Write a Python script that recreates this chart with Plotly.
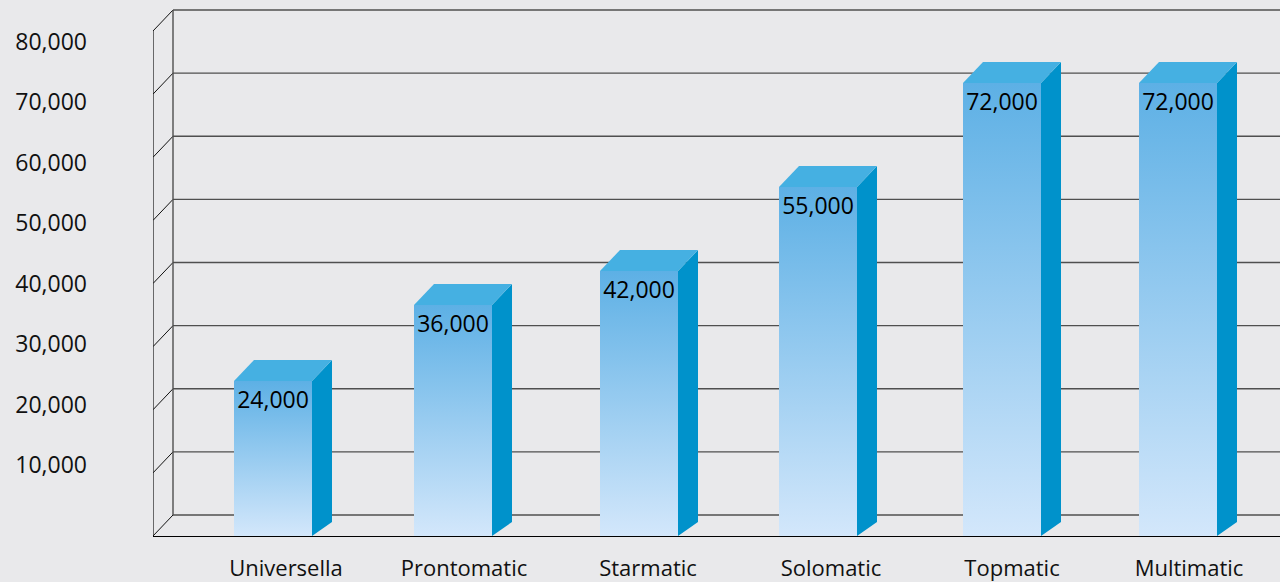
import plotly.graph_objects as go

# Data
categories = ["Universella", "Prontomatic", "Starmatic", "Solomatic", "Topmatic", "Multimatic"]
value_labels = [24000, 36000, 42000, 55000, 72000, 72000]
drawn_heights = [24550, 36600, 41980, 55290, 71760, 71760]
axis_ticks = [10000, 20000, 30000, 40000, 50000, 60000, 70000, 80000]
grid_levels = [0, 10000, 20000, 30000, 40000, 50000, 60000, 70000, 80000]

# Layout / placement (x axis is in page-width units)
bar_lefts = [234, 414, 600, 779, 963, 1139]
cat_label_x = [286, 464, 648, 831, 1012, 1189]
BAR_W = 78
PX_PER_UNIT = 0.0063125
DX = 20
DY_TOP = 21 / PX_PER_UNIT
DY_BOTTOM = 14 / PX_PER_UNIT
FLOOR = 536
LABEL_DROP = 21 / PX_PER_UNIT

BG = "#E9E9EB"
GRID = "#4f4f4f"
FONT = "Open Sans"

fig = go.Figure()


def line(xs, ys, color, width):
    fig.add_trace(go.Scatter(x=xs, y=ys, mode="lines", line=dict(color=color, width=width),
                             hoverinfo="skip", showlegend=False))


# back wall grid
for g in grid_levels:
    line([153 + DX, 1280], [g + DY_TOP, g + DY_TOP], GRID, 1.4)
    line([153, 153 + DX], [g, g + DY_TOP], "#111111", 1)
line([153, 153], [0, grid_levels[-1]], "#111111", 1.2)
line([153 + DX, 153 + DX], [DY_TOP, grid_levels[-1] + DY_TOP], GRID, 1.4)

# bars
for left, h in zip(bar_lefts, drawn_heights):
    right = left + BAR_W
    fig.add_trace(go.Scatter(
        x=[right, right + DX, right + DX, right, right],
        y=[h, h + DY_TOP, DY_BOTTOM, 0, h],
        mode="lines", fill="toself", fillcolor="#0092CB", line=dict(width=0),
        hoverinfo="skip", showlegend=False))
    fig.add_trace(go.Scatter(
        x=[left, right, right + DX, left + DX, left],
        y=[h, h, h + DY_TOP, h + DY_TOP, h],
        mode="lines", fill="toself", fillcolor="#45B0E2", line=dict(width=0),
        hoverinfo="skip", showlegend=False))
    fig.add_trace(go.Scatter(
        x=[left, right, right, left, left],
        y=[0, 0, h, h, 0],
        mode="lines", fill="toself", line=dict(width=0),
        fillgradient=dict(type="vertical",
                          colorscale=[[0, "#D3E7FB"], [1, "#5DB0E5"]]),
        hoverinfo="skip", showlegend=False))

# value labels
fig.add_trace(go.Scatter(
    x=[l + BAR_W / 2 for l in bar_lefts],
    y=[h - LABEL_DROP for h in drawn_heights],
    text=[f"{v:,}" for v in value_labels],
    mode="text", textposition="middle center",
    textfont=dict(family=FONT, size=23, color="#000000"),
    hoverinfo="skip", showlegend=False))

# invisible trace that activates the tick-label axis
fig.add_trace(go.Scatter(x=[153], y=[axis_ticks[0]], yaxis="y2", mode="markers",
                         marker=dict(opacity=0), hoverinfo="skip", showlegend=False))

lab_step = (465 - 42) / 7
fig.update_layout(
    width=1280, height=582,
    autosize=False,
    margin=dict(l=153, r=0, t=0, b=582 - FLOOR, pad=0, autoexpand=False),
    paper_bgcolor=BG, plot_bgcolor=BG,
    font=dict(family=FONT, size=22.5, color="#111111"),
    showlegend=False,
    xaxis=dict(range=[153, 1280], tickvals=cat_label_x, ticktext=categories,
               showgrid=False, zeroline=False, showline=True, linecolor="#000000", linewidth=1.2,
               ticks="", ticklabelstandoff=12, tickangle=0, fixedrange=True, automargin=False,
               tickfont=dict(family=FONT, size=22, color="#111111")),
    yaxis=dict(range=[0, FLOOR / PX_PER_UNIT], visible=False, fixedrange=True, automargin=False),
    yaxis2=dict(range=[10000 - (FLOOR - 465) / lab_step * 10000,
                       10000 + 465 / lab_step * 10000],
                overlaying="y", side="left", tickvals=axis_ticks, tickformat=",",
                showgrid=False, zeroline=False, showline=False, ticks="", automargin=False,
                ticklabelstandoff=65, fixedrange=True,
                tickfont=dict(family=FONT, size=23, color="#111111")),
)

fig.write_html("out.html", config=dict(displayModeBar=False),
               post_script="document.documentElement.style.background='#E9E9EB';"
                           "document.body.style.margin='0';"
                           "document.body.style.overflow='hidden';")
